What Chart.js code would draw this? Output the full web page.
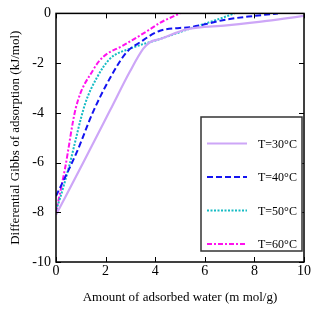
<!DOCTYPE html>
<html>
<head>
<meta charset="utf-8">
<script src="https://cdn.jsdelivr.net/npm/chart.js@4/dist/chart.umd.min.js"></script>
<style>
  html, body { margin: 0; padding: 0; background: #fff; }
  #wrap { width: 320px; height: 314px; }
</style>
</head>
<body>
<div id="wrap"><canvas id="chart"></canvas></div>
<script>
const seriesLabels = ["T=30°C", "T=40°C", "T=50°C", "T=60°C"];

const t30X = [0, 1.1, 2.18, 2.98, 3.52, 3.79, 4.19, 5.27, 6.88, 8.5, 10];
const t30Y = [-8.1, -6.0, -3.9, -2.34, -1.42, -1.16, -1.03, -0.64, -0.48, -0.3, -0.1];

const t40X = [0, 0.83, 1.5, 2.18, 2.85, 3.39, 4.19, 5.5, 6.9, 8, 8.95];
const t40Y = [-7.35, -5.6, -3.95, -2.6, -1.56, -1.16, -0.7, -0.54, -0.24, -0.1, 0];

const t50X = [0, 0.16, 0.5, 1.17, 1.64, 2.18, 2.98, 4.19, 5.5, 6.5, 7.2];
const t50Y = [-7.9, -7.44, -6.26, -3.65, -2.6, -1.82, -1.42, -1.03, -0.58, -0.25, 0];

const t60X = [0, 0.36, 0.8, 1.5, 1.9, 2.71, 3.79, 4.19, 5.0];
const t60Y = [-8.0, -6.26, -3.8, -2.27, -1.75, -1.29, -0.64, -0.38, 0];

const xTicks = [0, 2, 4, 6, 8, 10];
const yTicks = [-10, -8, -6, -4, -2, 0];

const serif = "'Liberation Serif', 'DejaVu Serif', serif";

function toPoints(xs, ys) {
  return xs.map((x, i) => ({ x: x, y: ys[i] }));
}

// box frame, inward ticks on all sides, legend inside the plot
const frame = {
  id: "frame",
  afterDraw(chart) {
    const ctx = chart.ctx;
    const a = chart.chartArea;
    const xs = chart.scales.x;
    const ys = chart.scales.y;
    ctx.save();
    ctx.strokeStyle = "#000";
    ctx.lineWidth = 1.5;
    ctx.strokeRect(a.left, a.top, a.right - a.left, a.bottom - a.top);
    ctx.lineWidth = 1;
    ctx.beginPath();
    xTicks.forEach((v) => {
      const px = Math.round(xs.getPixelForValue(v)) + 0.5;
      ctx.moveTo(px, a.bottom); ctx.lineTo(px, a.bottom - 5);
      ctx.moveTo(px, a.top); ctx.lineTo(px, a.top + 5);
    });
    yTicks.forEach((v) => {
      const py = Math.round(ys.getPixelForValue(v)) + 0.5;
      ctx.moveTo(a.left, py); ctx.lineTo(a.left + 5, py);
      ctx.moveTo(a.right, py); ctx.lineTo(a.right - 5, py);
    });
    ctx.stroke();

    // legend
    const bx = 201, by = 117, bw = 101, bh = 134;
    ctx.fillStyle = "#fff";
    ctx.fillRect(bx, by, bw, bh);
    ctx.strokeStyle = "#333";
    ctx.lineWidth = 1.5;
    ctx.strokeRect(bx, by, bw, bh);
    ctx.font = "12px " + serif;
    ctx.textBaseline = "middle";
    ctx.textAlign = "left";
    chart.data.datasets.forEach((ds, i) => {
      const y = 143.5 + i * 33.5;
      ctx.strokeStyle = ds.borderColor;
      ctx.lineWidth = ds.borderWidth;
      ctx.setLineDash(ds.borderDash || []);
      ctx.beginPath();
      ctx.moveTo(207, y);
      ctx.lineTo(247, y);
      ctx.stroke();
      ctx.setLineDash([]);
      ctx.fillStyle = "#000";
      ctx.fillText(ds.label, 258, y + 1);
    });
    ctx.restore();
  },
};

const ctx = document.getElementById("chart").getContext("2d");

new Chart(ctx, {
  type: "line",
  plugins: [frame],
  data: {
    datasets: [
      {
        label: seriesLabels[0],
        data: toPoints(t30X, t30Y),
        borderColor: "#cda6f7",
        borderWidth: 2.2,
        pointRadius: 0,
        cubicInterpolationMode: "monotone",
      },
      {
        label: seriesLabels[1],
        data: toPoints(t40X, t40Y),
        borderColor: "#1414f0",
        borderWidth: 2,
        borderDash: [6, 3],
        pointRadius: 0,
        cubicInterpolationMode: "monotone",
      },
      {
        label: seriesLabels[2],
        data: toPoints(t50X, t50Y),
        borderColor: "#16bcc4",
        borderWidth: 2,
        borderDash: [2, 1.5],
        pointRadius: 0,
        cubicInterpolationMode: "monotone",
      },
      {
        label: seriesLabels[3],
        data: toPoints(t60X, t60Y),
        borderColor: "#ff12ee",
        borderWidth: 2,
        borderDash: [5, 2, 2, 2],
        pointRadius: 0,
        cubicInterpolationMode: "monotone",
      },
    ],
  },
  options: {
    responsive: true,
    maintainAspectRatio: false,
    animation: false,
    layout: {
      padding: { top: 7, right: 16, left: 0, bottom: 0 },
    },
    plugins: {
      legend: { display: false },
      tooltip: { enabled: false },
    },
    scales: {
      x: {
        type: "linear",
        min: 0,
        max: 10,
        afterFit(scale) { scale.height = 52; },
        afterBuildTicks(scale) { scale.ticks = xTicks.map((v) => ({ value: v })); },
        grid: { display: false, drawTicks: false },
        border: { display: false },
        ticks: {
          color: "#000",
          padding: 1,
          font: { size: 14, family: serif },
        },
        title: {
          display: true,
          text: "Amount of adsorbed water (m mol/g)",
          color: "#000",
          padding: { top: 0, bottom: 9 },
          font: { size: 13, family: serif },
        },
      },
      y: {
        min: -10,
        max: 0,
        afterFit(scale) { scale.width = 56; },
        afterBuildTicks(scale) { scale.ticks = yTicks.map((v) => ({ value: v })); },
        grid: { display: false, drawTicks: false },
        border: { display: false },
        ticks: {
          color: "#000",
          padding: 5,
          font: { size: 14, family: serif },
          // the inner labels sit a little further left in the original
          callback: (v) => (v === 0 || v === -10 ? String(v) : v + "\u2007"),
        },
        title: {
          display: true,
          text: "Differential Gibbs of adsorption (kJ/mol)",
          color: "#000",
          padding: { top: 8, bottom: 0 },
          font: { size: 13, family: serif },
        },
      },
    },
  },
});
</script>
</body>
</html>
